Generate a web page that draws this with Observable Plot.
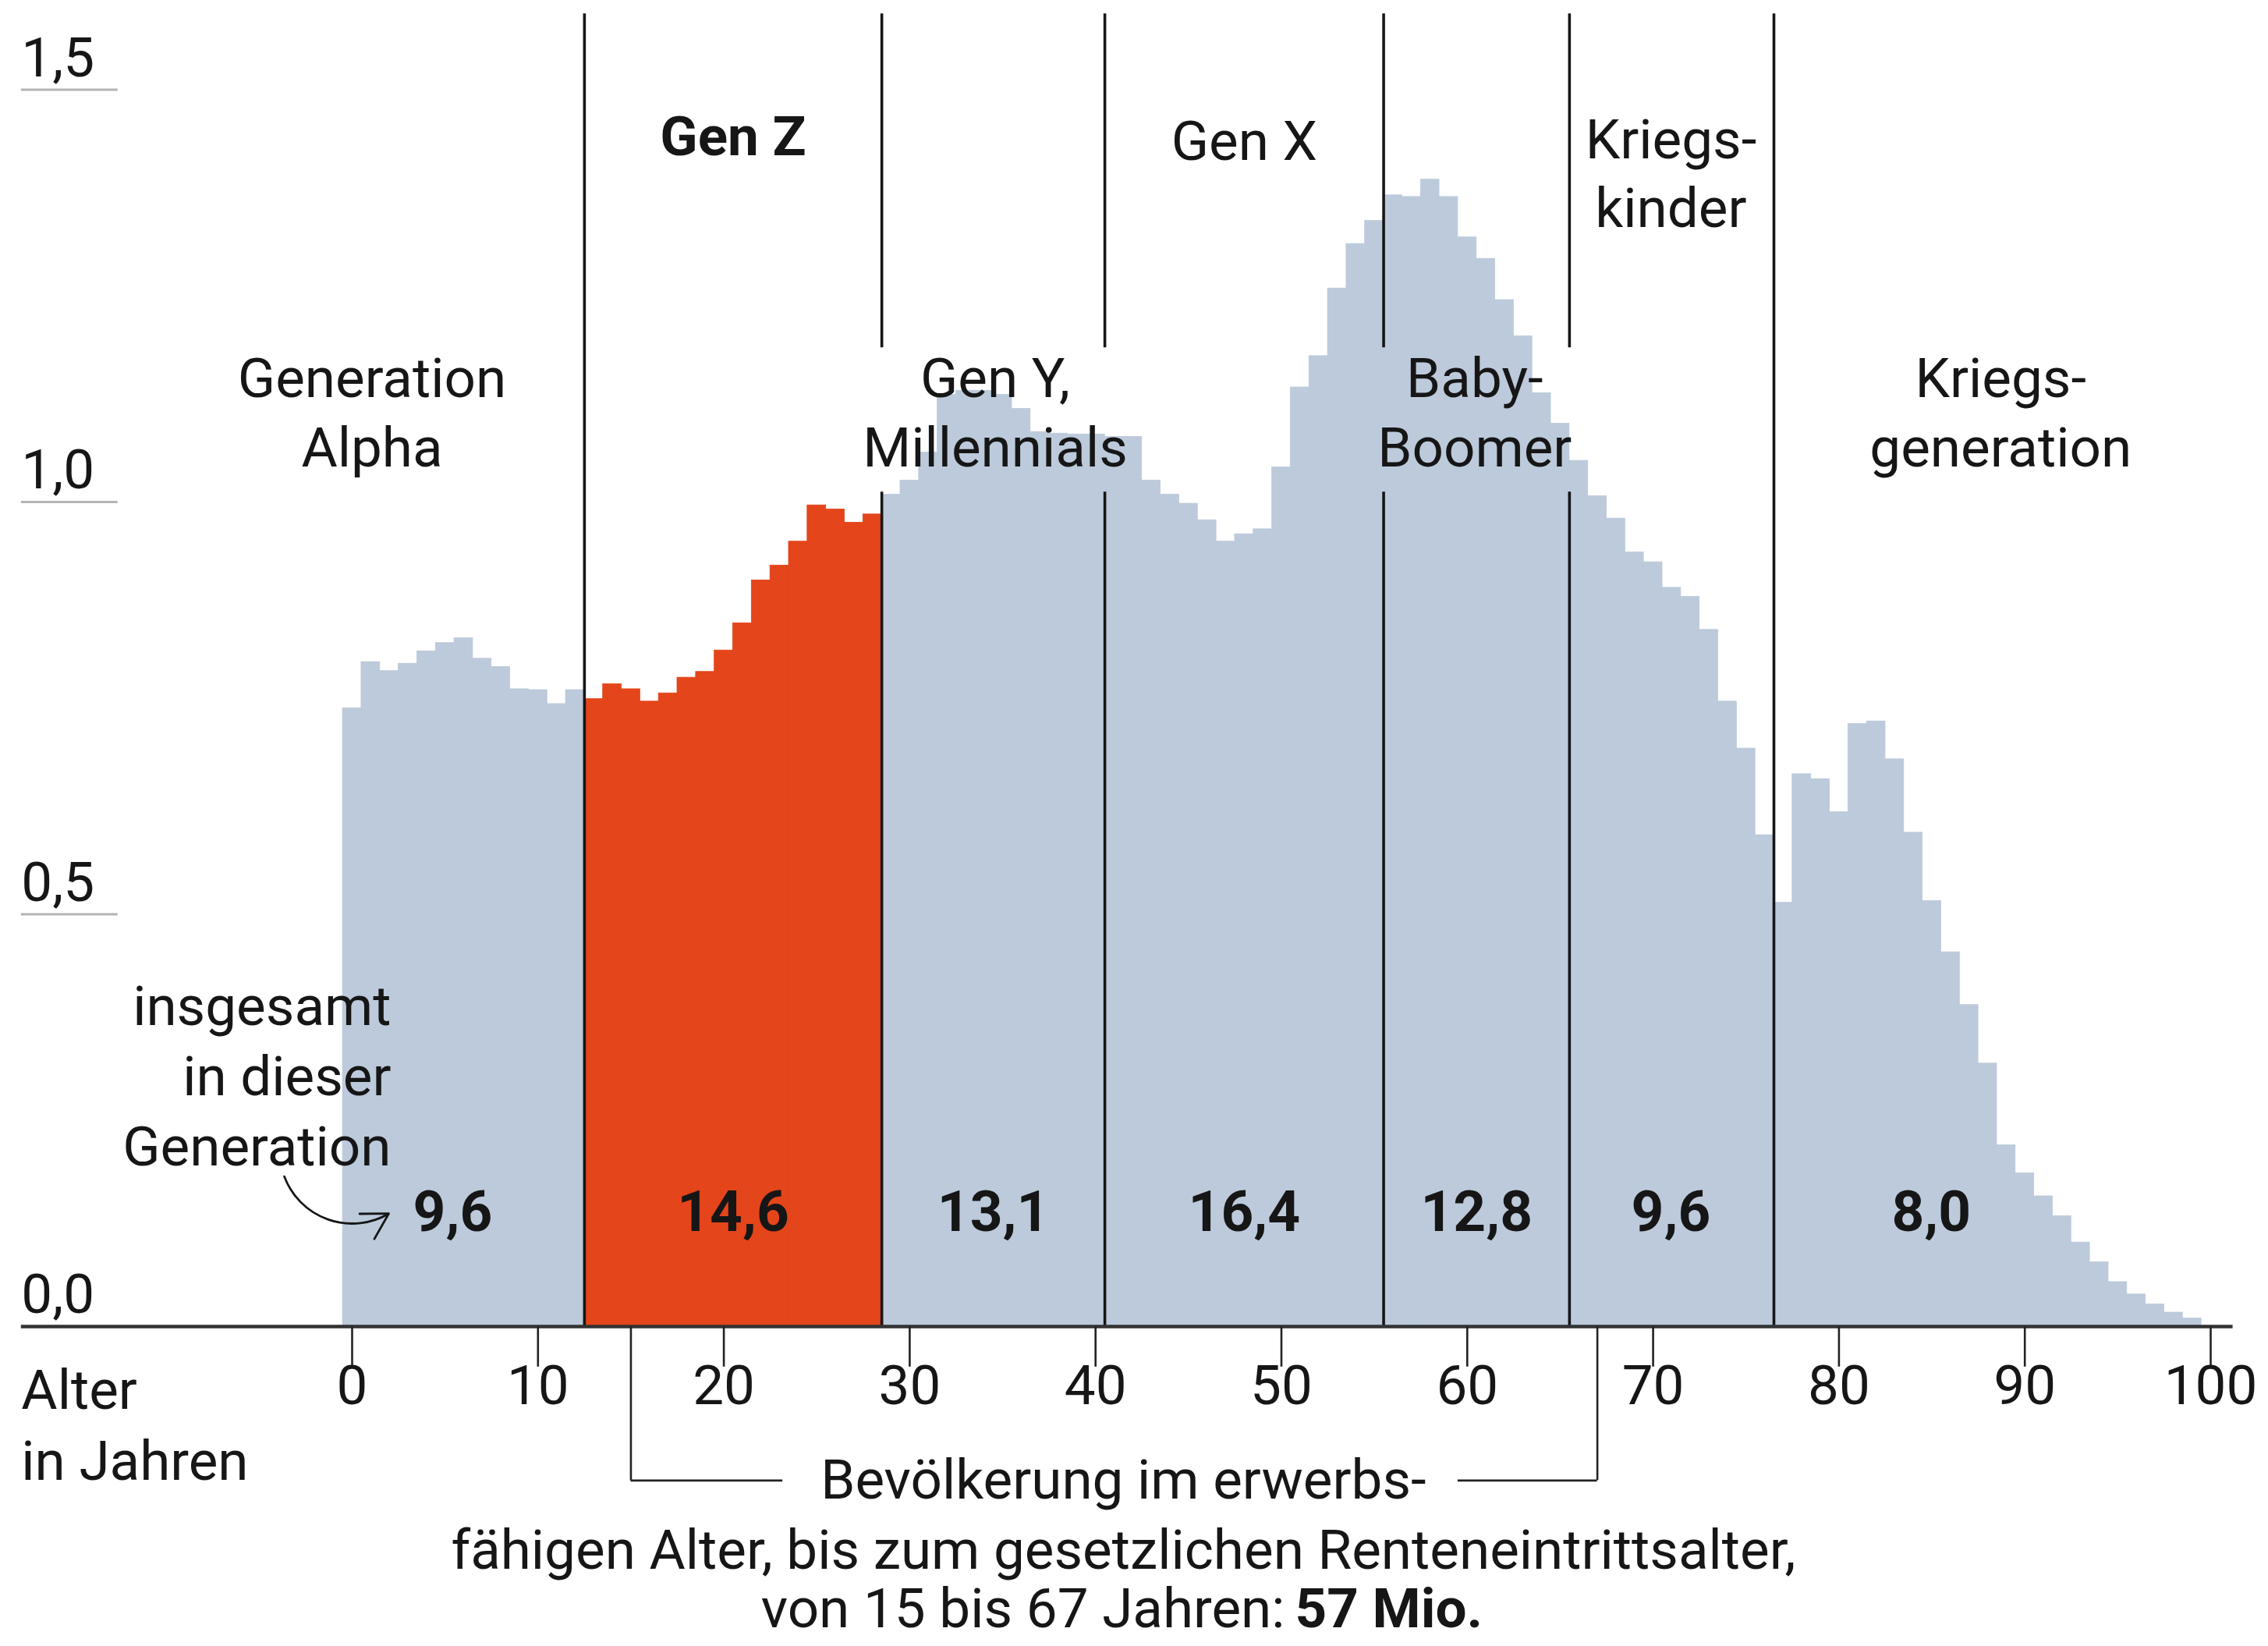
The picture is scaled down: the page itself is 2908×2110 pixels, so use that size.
<!DOCTYPE html>
<html>
<head>
<meta charset="utf-8">
<script src="https://cdn.jsdelivr.net/npm/d3@7"></script>
<script src="https://cdn.jsdelivr.net/npm/@observablehq/plot@0.6"></script>
<style>
  html, body { margin: 0; padding: 0; background: #ffffff; overflow: hidden; }
  #chart svg { display: block; }
</style>
</head>
<body>
<div id="chart"></div>
<script>
// ---------- DATA ----------
// Population per year of age (millions), ages 0..99
const population = [
  0.750, 0.806, 0.795, 0.804, 0.819, 0.829, 0.835, 0.810, 0.800, 0.773,
  0.772, 0.755, 0.772, 0.761, 0.779, 0.773, 0.758, 0.768, 0.787, 0.794,
  0.820, 0.853, 0.905, 0.923, 0.952, 0.996, 0.991, 0.975, 0.985, 1.009,
  1.026, 1.060, 1.130, 1.135, 1.135, 1.130, 1.113, 1.085, 1.083, 1.082,
  1.082, 1.079, 1.079, 1.026, 1.009, 0.998, 0.978, 0.952, 0.961, 0.967,
  1.042, 1.139, 1.177, 1.259, 1.313, 1.341, 1.372, 1.370, 1.391, 1.370,
  1.321, 1.295, 1.245, 1.201, 1.132, 1.095, 1.050, 1.007, 0.980, 0.939,
  0.927, 0.896, 0.885, 0.845, 0.758, 0.701, 0.596, 0.514, 0.670, 0.664,
  0.624, 0.731, 0.734, 0.688, 0.599, 0.516, 0.454, 0.390, 0.319, 0.220,
  0.186, 0.158, 0.134, 0.102, 0.078, 0.054, 0.039, 0.027, 0.017, 0.010
];
const generationNames = ["Generation\nAlpha", "Gen Z", "Gen Y,\nMillennials", "Gen X", "Baby-\nBoomer", "Kriegs-\nkinder", "Kriegs-\ngeneration"];
const generationFirstAge = [0, 13, 29, 41, 56, 66, 77];
const generationTotals = ["9,6", "14,6", "13,1", "16,4", "12,8", "9,6", "8,0"];
const highlightedGeneration = "Gen Z";
const yTicks = [0, 0.5, 1.0, 1.5];
const yTickLabels = ["0,0", "0,5", "1,0", "1,5"];
const xTicks = [0, 10, 20, 30, 40, 50, 60, 70, 80, 90, 100];
const xAxisTitle = "Alter\nin Jahren";
const workingAgeRange = [15, 67];
const totalsNote = "insgesamt\nin dieser\nGeneration";
const captionLine1 = "Bevölkerung im erwerbs-";
const captionLine2 = "fähigen Alter, bis zum gesetzlichen Renteneintrittsalter,";
const captionLine3 = "von 15 bis 67 Jahren:";
const captionBold = "57 Mio.";

// ---------- LAYOUT (positions in data units, styles) ----------
const FONT = "Roboto, 'Liberation Sans', sans-serif";
const FS = 71;
const BLUE = "#bccadb";
const RED = "#e4451a";
const INK = "#161616";
const layout = {
  axisLeft: -17.8, axisRight: 101.2, tickUnderlineEnd: -12.6,
  labelX: [1.07, 20.5, 34.6, 48.0, 60.4, 70.96, 88.7],
  labelY: [1.112, 1.442, 1.112, 1.442, 1.112, 1.402, 1.112],
  totalX: [5.41, 20.5, 34.5, 48.0, 60.5, 70.96, 84.97],
  totalY: 0.138,
  dividerTop: 1.592, dividerBreak: [false, true, true, true, true, false],
  breakLow: 1.012, breakHigh: 1.187,
  tickLabelY: -0.0729, axisTitleY: -0.1156, tickLen: -0.049,
  bracketY: -0.1867, bracketInnerLeft: 23.17, bracketInnerRight: 59.5,
  captionX: 41.5, caption2Y: -0.2726, caption3Y: -0.3435, caption3Split: [50.19, 50.73],
  noteX: 2.1, noteY: 0.308,
  arrow: {x1: -3.65, y1: 0.182, x2: 1.97, y2: 0.137}
};

// ---------- DERIVED TABLES ----------
const rows = population.map((value, age) => {
  let g = 0;
  for (let i = 0; i < generationFirstAge.length; i++) if (age >= generationFirstAge[i]) g = i;
  return {age, value, gen: generationNames[g]};
});
const dividerAges = generationFirstAge.slice(1).map(a => a - 0.5);
const dividerSegments = dividerAges.flatMap((x, i) => layout.dividerBreak[i]
  ? [{x, y1: 0, y2: layout.breakLow}, {x, y1: layout.breakHigh, y2: layout.dividerTop}]
  : [{x, y1: 0, y2: layout.dividerTop}]);
const genLabels = generationNames.map((name, i) => ({name, x: layout.labelX[i], y: layout.labelY[i]}));
const totals = generationTotals.map((t, i) => ({t, x: layout.totalX[i], y: layout.totalY}));

const textBase = {fontFamily: FONT, fontSize: FS, fill: INK};

const chart = Plot.plot({
  width: 2908,
  height: 2110,
  marginLeft: 451,
  marginRight: 74,
  marginTop: 114.5,
  marginBottom: 410,
  x: {domain: [0, 100], axis: null},
  y: {domain: [0, 1.5], axis: null},
  style: {fontFamily: FONT, fontSize: FS + "px", background: "#ffffff", color: INK},
  marks: [
    // bars
    Plot.rectY(rows, {
      x1: d => d.age - 0.5, x2: d => d.age + 0.5, y1: 0, y2: "value",
      fill: d => d.gen === highlightedGeneration ? RED : BLUE,
      stroke: d => d.gen === highlightedGeneration ? RED : BLUE,
      strokeWidth: 0.8
    }),
    // y tick underlines and labels
    Plot.ruleY(yTicks, {y: d => d, x1: layout.axisLeft, x2: layout.tickUnderlineEnd, stroke: "#b4b4b4", strokeWidth: 3}),
    Plot.text(yTicks, {x: layout.axisLeft, y: d => d, text: (d, i) => yTickLabels[i], textAnchor: "start", dy: -40, ...textBase}),
    // generation dividers
    Plot.ruleX(dividerSegments, {x: "x", y1: "y1", y2: "y2", stroke: INK, strokeWidth: 3.6}),
    // baseline
    Plot.ruleY([0], {x1: layout.axisLeft, x2: layout.axisRight, stroke: "#333333", strokeWidth: 4.5}),
    // x ticks + labels
    Plot.ruleX(xTicks, {x: d => d, y1: 0, y2: layout.tickLen, stroke: "#222222", strokeWidth: 2.6}),
    Plot.text(xTicks, {x: d => d, y: layout.tickLabelY, text: d => String(d), ...textBase}),
    Plot.text([xAxisTitle], {x: layout.axisLeft, y: layout.axisTitleY, text: d => d, textAnchor: "start", lineHeight: 1.28, ...textBase}),
    // generation labels
    Plot.text(genLabels.filter(d => d.name !== highlightedGeneration), {x: "x", y: "y", text: "name", lineHeight: 1.25, ...textBase}),
    Plot.text(genLabels.filter(d => d.name === highlightedGeneration), {x: "x", y: "y", text: "name", fontWeight: "bold", ...textBase}),
    // totals
    Plot.text(totals, {x: "x", y: "y", text: "t", fontWeight: "bold", ...textBase, fontSize: 73}),
    // note + arrow
    Plot.text([totalsNote], {x: layout.noteX, y: layout.noteY, text: d => d, textAnchor: "end", lineHeight: 1.27, ...textBase}),
    Plot.arrow([layout.arrow], {x1: "x1", y1: "y1", x2: "x2", y2: "y2", bend: -50, headLength: 20, stroke: INK, strokeWidth: 2.8}),
    // working age bracket
    Plot.ruleX(workingAgeRange, {x: d => d, y1: 0, y2: layout.bracketY, stroke: "#222222", strokeWidth: 2.6}),
    Plot.ruleY([
      {x1: workingAgeRange[0], x2: layout.bracketInnerLeft},
      {x1: layout.bracketInnerRight, x2: workingAgeRange[1]}
    ], {x1: "x1", x2: "x2", y: layout.bracketY, stroke: "#222222", strokeWidth: 2.6}),
    Plot.text([captionLine1], {x: layout.captionX, y: layout.bracketY, text: d => d, ...textBase}),
    Plot.text([captionLine2], {x: layout.captionX, y: layout.caption2Y, text: d => d, ...textBase}),
    Plot.text([captionLine3], {x: layout.caption3Split[0], y: layout.caption3Y, text: d => d, textAnchor: "end", ...textBase}),
    Plot.text([captionBold], {x: layout.caption3Split[1], y: layout.caption3Y, text: d => d, textAnchor: "start", fontWeight: "bold", ...textBase})
  ]
});
document.getElementById("chart").appendChild(chart);
</script>
</body>
</html>
